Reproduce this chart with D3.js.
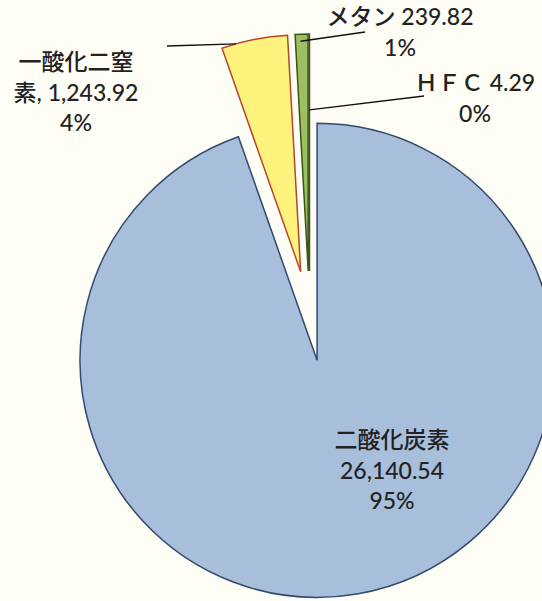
<!DOCTYPE html>
<html>
<head>
<meta charset="utf-8">
<script src="https://cdn.jsdelivr.net/npm/d3@7"></script>
<style>
  body { margin: 0; background: #fffef6; }
  svg { display: block; }
  text { font-family: "Lato", "Noto Sans CJK JP", sans-serif; fill: #222; font-weight: 500; }
</style>
</head>
<body>
<div id="chart"></div>
<script>
// データ（温室効果ガス排出量）
var gases = ["二酸化炭素", "一酸化二窒素", "メタン", "ＨＦＣ"];
var amounts = [26140.54, 1243.92, 239.82, 4.29];
var shares = ["95%", "4%", "1%", "0%"];

var width = 542,
    height = 601,
    cx = 309.5,
    cy = 316,
    radius = 237,
    explode = 45;

var fills = ["#a8bfdb", "#fdf27c", "#9dbf62", "#9dbf62"];
var strokes = ["#33496e", "#b8452c", "#3a5518", "#3a5518"];

// ラベルの位置（レイアウトのみ）
var labels = [
  { x: 392, y: 440, lines: [gases[0], fmt(amounts[0]), shares[0]], anchor: null },
  { x: 76, y: 62, lines: ["一酸化二窒", "素, " + fmt(amounts[1]), shares[1]], anchor: { f: 0.22, r: 1.0, to: [167, 46] } },
  { x: 400, y: 17, lines: [gases[2] + " " + fmt(amounts[2]), shares[2]], anchor: { f: 0.4, r: 0.97, to: [365, 32] } },
  { x: 475, y: 83, lines: [gases[3] + " " + fmt(amounts[3]), shares[3]], anchor: { f: 1.0, r: 0.68, to: [424, 96] } }
];

function fmt(v) {
  return d3.format(",.2f")(v);
}

var data = gases.map(function (g, i) { return { name: g, value: amounts[i], i: i }; });

var pie = d3.pie()
    .sort(null)
    .value(function (d) { return d.value; });

var arc = d3.arc()
    .innerRadius(0)
    .outerRadius(radius);

var arcs = pie(data);

var svg = d3.select("#chart")
    .append("svg")
    .attr("width", width)
    .attr("height", height);

var g = svg.append("g")
    .attr("transform", "translate(" + cx + "," + cy + ")");

function offset(d) {
  var a = (d.startAngle + d.endAngle) / 2;
  return [explode * Math.sin(a), -explode * Math.cos(a)];
}

g.selectAll("path")
    .data(arcs)
    .enter()
    .append("path")
    .attr("d", arc)
    .attr("transform", function (d) { var o = offset(d); return "translate(" + o[0] + "," + o[1] + ")"; })
    .style("fill", function (d) { return fills[d.index]; })
    .style("stroke", function (d) { return strokes[d.index]; })
    .style("stroke-width", "1.5px")
    .style("stroke-linejoin", "miter");

// 引き出し線
labels.forEach(function (lab, i) {
  if (!lab.anchor) return;
  var d = arcs[i];
  var o = offset(d);
  var a = d.startAngle + (d.endAngle - d.startAngle) * lab.anchor.f;
  var r = radius * lab.anchor.r;
  var x0 = cx + o[0] + r * Math.sin(a),
      y0 = cy + o[1] - r * Math.cos(a);
  svg.append("line")
      .attr("x1", x0)
      .attr("y1", y0)
      .attr("x2", lab.anchor.to[0])
      .attr("y2", lab.anchor.to[1])
      .style("stroke", "#111")
      .style("stroke-width", "1.4px");
});

// ラベル
labels.forEach(function (lab) {
  var t = svg.append("text")
      .attr("text-anchor", "middle")
      .style("font-size", "23px");
  lab.lines.forEach(function (s, k) {
    t.append("tspan")
        .attr("x", lab.x)
        .attr("y", lab.y + k * 30.5)
        .attr("dy", "0.36em")
        .text(s);
  });
});
</script>
</body>
</html>
